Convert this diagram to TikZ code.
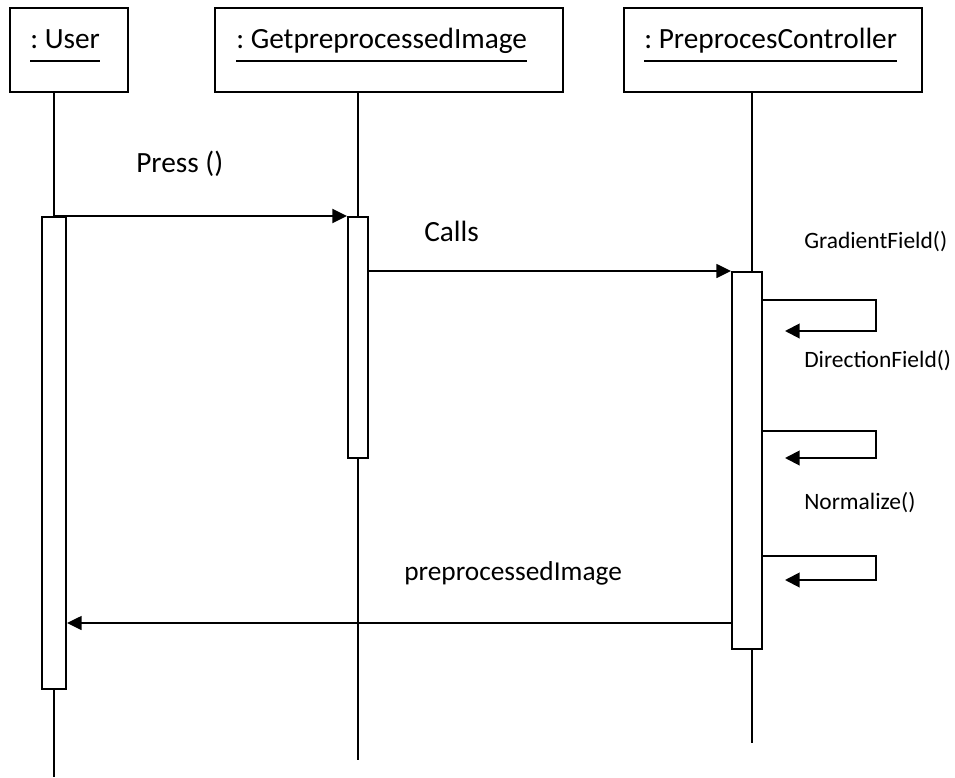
\documentclass[tikz,border=0pt]{standalone}
\usepackage{fontspec}
\setmainfont{Carlito}
\usetikzlibrary{arrows.meta}
\frenchspacing
\begin{document}
\begin{tikzpicture}[x=0.75pt,y=-0.75pt,
  obj/.style={draw,line width=1.5pt,minimum height=63pt,inner sep=0pt},
  act/.style={draw,fill=white,line width=1.5pt,inner sep=0pt},
  life/.style={line width=1.5pt},
  msg/.style={line width=1.5pt,-{Triangle[length=11pt,width=10.5pt]}},
  thinmsg/.style={line width=1.1pt,-{Triangle[length=11pt,width=10.5pt]}},
  selfmsg/.style={line width=1.5pt,-{Triangle[length=11pt,width=11pt]}},
  big/.style={font=\fontsize{22}{26}\selectfont,inner sep=0pt,anchor=base west},
  mid/.style={font=\fontsize{20.5}{24}\selectfont,inner sep=0pt,anchor=base west},
  small/.style={font=\fontsize{17.6}{21}\selectfont,inner sep=0pt,anchor=base west},
  uline/.style={line width=1.3pt}
]
% canvas
\path[use as bounding box,fill=white] (0,0) rectangle (955,777);

% object boxes
\node[obj,minimum width=88.5pt]  (user) at (69,50)  {};
\node[obj,minimum width=261pt]   (gpi)  at (389,50) {};
\node[obj,minimum width=223.5pt] (pc)   at (773,50) {};

% object names, underlined
\node[big] (tuser) at (30,49)  {: User};
\node[big] (tgpi)  at (236,49) {: GetpreprocessedImage};
\node[big] (tpc)   at (644,49) {: PreprocesController};
\foreach \t in {tuser,tgpi,tpc}
  \draw[uline] ([yshift=-9pt]\t.base west) -- ([yshift=-9pt]\t.base east);

% lifeline ends
\coordinate (enduser) at (54,777);
\coordinate (endgpi)  at (358,760);
\coordinate (endpc)   at (752,743);
\draw[life] (user.south -| enduser) -- (enduser);
\draw[life] (gpi.south -| endgpi) -- (endgpi);
\draw[life] (pc.south -| endpc) -- (endpc);

% activation bars
\node[act,minimum width=18pt,minimum height=354pt]   (a1) at (54,453)   {};
\node[act,minimum width=15pt,minimum height=180.75pt] (a2) at (358,337.5) {};
\node[act,minimum width=22.5pt,minimum height=282.75pt] (a3) at (747,460.5) {};

% Press ()
\draw[msg] (a1.north) -- (a2.north west);
\node[big] (lpress) at (136,173) {Press ()};

% Calls
\draw[thinmsg] (a2.east |- a3.north west) -- (a3.north west);
\node[big] (lcalls) at (424,241) {Calls};

% self calls on the controller
\coordinate (g1) at (876,300); \coordinate (g2) at (876,331); \coordinate (g3) at (785,331);
\draw[selfmsg] (a3.east |- g1) -- (g1) -- (g2) -- (g3);
\node[small] (lgrad) at (804,248) {GradientField()};

\coordinate (d1) at (876,431); \coordinate (d2) at (876,458); \coordinate (d3) at (785,458);
\draw[selfmsg] (a3.east |- d1) -- (d1) -- (d2) -- (d3);
\node[small] (ldir) at (804,367) {DirectionField()};

\coordinate (n1) at (876,556); \coordinate (n2) at (876,580); \coordinate (n3) at (785,580);
\draw[selfmsg] (a3.east |- n1) -- (n1) -- (n2) -- (n3);
\node[small] (lnorm) at (804,509) {Normalize()};

% return
\coordinate (r) at (0,623);
\draw[thinmsg] (a3.west |- r) -- (a1.east |- r);
\node[mid] (lret) at (404,580) {preprocessedImage};
\end{tikzpicture}
\end{document}
